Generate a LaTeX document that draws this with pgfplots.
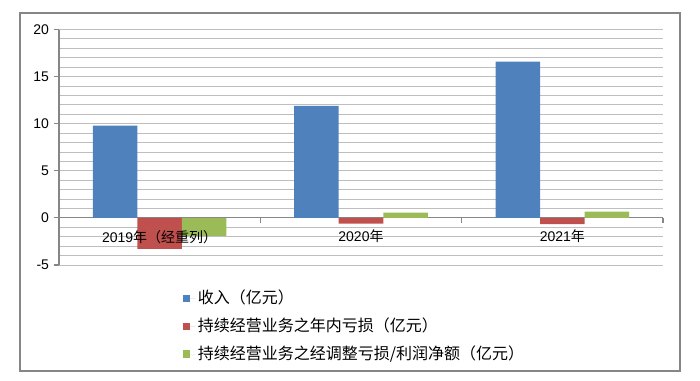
\documentclass[border=0pt]{standalone}
\usepackage{pgfplots}
\pgfplotsset{compat=1.18}
\usepackage{fontspec}
\setmainfont{Liberation Sans}
\newfontfamily\cjk{Noto Sans CJK SC}
\definecolor{cblue}{HTML}{4F81BD}
\definecolor{cred}{HTML}{C0504D}
\definecolor{cgreen}{HTML}{9BBB59}
\definecolor{gridgray}{HTML}{BEBEBE}
\definecolor{axisgray}{HTML}{868686}
\begin{document}
\begin{tikzpicture}
\path (0pt,0pt) rectangle (525pt,285.75pt);
\draw[axisgray, line width=0.8pt] (15pt,7.5pt) rectangle (510pt,276pt);
\begin{axis}[
  at={(44.25pt,87pt)}, anchor=south west,
  scale only axis, width=453pt, height=176.6pt,
  ybar=0pt, bar width=33.4pt,
  xmin=-0.5, xmax=2.5, ymin=-5, ymax=20,
  axis x line*=middle, axis y line*=left,
  axis line style={axisgray, line width=0.8pt},
  xtick={0.5,1.5,2.5}, xticklabels={},
  xtick align=outside, ytick align=outside,
  major tick length=4pt,
  tick style={axisgray, line width=0.8pt},
  ytick={-5,0,5,10,15,20},
  minor ytick={-5,-4,...,20},
  ymajorgrids, yminorgrids,
  major grid style={gridgray, line width=0.7pt},
  minor grid style={gridgray, line width=0.7pt},
  minor tick length=0pt,
  /pgf/number format/assume math mode=true,
  tick label style={font=\fontsize{10.5pt}{12pt}\selectfont, black},
  legend style={at={(axis description cs:0.2053,-0.095)}, anchor=north west,
    draw=none, fill=none, inner sep=0pt, row sep=5.2pt,
    font=\fontsize{12pt}{13pt}\selectfont\cjk},
  legend cell align=left,
  legend image code/.code={\path (0pt,0pt) -- (9pt,0pt);\fill[#1,draw=none] (0pt,-2.7pt) rectangle (5.4pt,2.7pt);},
]
\addplot[fill=cblue, draw=none] coordinates {(0,9.8) (1,11.9) (2,16.6)};
\addplot[fill=cred, draw=none] coordinates {(0,-3.3) (1,-0.6) (2,-0.66)};
\addplot[fill=cgreen, draw=none] coordinates {(0,-1.9) (1,0.55) (2,0.66)};
\legend{收入（亿元）,持续经营业务之年内亏损（亿元）,持续经营业务之经调整亏损/利润净额（亿元）}
\node[anchor=north, inner sep=0pt, yshift=-9pt, font=\fontsize{10.5pt}{12pt}\selectfont] at (axis cs:0,0) {2019{\cjk 年（经重列）}};
\node[anchor=north, inner sep=0pt, yshift=-9pt, font=\fontsize{10.5pt}{12pt}\selectfont] at (axis cs:1,0) {2020{\cjk 年}};
\node[anchor=north, inner sep=0pt, yshift=-9pt, font=\fontsize{10.5pt}{12pt}\selectfont] at (axis cs:2,0) {2021{\cjk 年}};
\end{axis}
\end{tikzpicture}
\end{document}
